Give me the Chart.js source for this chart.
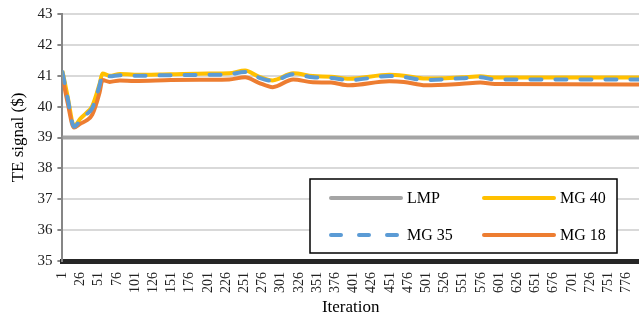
<!DOCTYPE html>
<html>
<head>
<meta charset="utf-8">
<script src="https://cdn.jsdelivr.net/npm/chart.js@4"></script>
<style>
  body { margin: 0; background: #fff; }
  #wrap { width: 639px; height: 316px; }
</style>
</head>
<body>
<div id="wrap"><canvas id="myChart" width="639" height="316"></canvas></div>
<script>
// iteraciones
const iterations = [1, 8, 17, 26, 34, 42, 52, 56, 66, 80, 100, 150, 200, 230, 252, 270, 290, 318, 345, 370, 395, 450, 470, 500, 550, 575, 595, 793];
const mg40 = [41.16, 40.35, 39.38, 39.62, 39.8, 40.02, 40.73, 41.07, 41.0, 41.06, 41.03, 41.05, 41.07, 41.08, 41.17, 40.98, 40.85, 41.08, 40.99, 40.97, 40.9, 41.03, 41.0, 40.91, 40.95, 40.98, 40.94, 40.94];
const mg35 = [41.12, 40.3, 39.35, 39.57, 39.75, 39.95, 40.68, 41.04, 40.98, 41.02, 41.0, 41.02, 41.03, 41.05, 41.12, 40.95, 40.83, 41.05, 40.95, 40.93, 40.86, 40.99, 40.96, 40.86, 40.92, 40.95, 40.88, 40.88];
const mg18 = [40.98, 40.15, 39.32, 39.45, 39.55, 39.74, 40.45, 40.86, 40.8, 40.85, 40.83, 40.86, 40.87, 40.88, 40.95, 40.78, 40.63, 40.88, 40.79, 40.78, 40.69, 40.82, 40.8, 40.69, 40.74, 40.78, 40.73, 40.72];
const lmpIter = [1, 793];
const lmp = [39, 39];
// etiquetas del eje x
const xTickLabels = [1, 26, 51, 76, 101, 126, 151, 176, 201, 226, 251, 276, 301, 326, 351, 376, 401, 426, 451, 476, 501, 526, 551, 576, 601, 626, 651, 676, 701, 726, 751, 776];
const yTickLabels = [35, 36, 37, 38, 39, 40, 41, 42, 43];

const serif = "'Liberation Serif', 'Times New Roman', serif";
const toPts = (xs, ys) => xs.map((x, i) => ({ x: x, y: ys[i] }));

// leyenda dentro del area del grafico
const boxLegend = {
    id: 'boxLegend',
    afterDraw(chart) {
        const ctx = chart.ctx;
        const x0 = 310, y0 = 179, w = 307, h = 74;
        ctx.save();
        ctx.fillStyle = '#fff';
        ctx.fillRect(x0, y0, w, h);
        ctx.strokeStyle = '#000';
        ctx.lineWidth = 1.5;
        ctx.strokeRect(x0, y0, w, h);
        const slots = [[331, 198], [484, 198], [331, 235], [484, 235]];
        chart.data.datasets.forEach((ds, i) => {
            const [lx, ly] = slots[i];
            ctx.beginPath();
            ctx.strokeStyle = ds.borderColor;
            ctx.lineWidth = ds.borderWidth;
            ctx.lineCap = 'round';
            ctx.setLineDash(ds.borderDash ? [10, 18] : []);
            ctx.moveTo(lx, ly);
            ctx.lineTo(lx + 70, ly);
            ctx.stroke();
            ctx.setLineDash([]);
            ctx.fillStyle = '#000';
            ctx.font = '16px ' + serif;
            ctx.textBaseline = 'middle';
            ctx.fillText(ds.label, lx + 76, ly + 1);
        });
        ctx.restore();
    }
};

var ctx = document.getElementById('myChart').getContext('2d');
var chart = new Chart(ctx, {
    type: 'line',
    data: {
        datasets: [
            { label: 'LMP', data: toPts(lmpIter, lmp), borderColor: '#a5a5a5', borderWidth: 4, order: 4 },
            { label: 'MG 40', data: toPts(iterations, mg40), borderColor: '#ffc000', borderWidth: 4, order: 3 },
            { label: 'MG 35', data: toPts(iterations, mg35), borderColor: '#5b9bd5', borderWidth: 4, borderDash: [11, 14], borderCapStyle: 'round', order: 1 },
            { label: 'MG 18', data: toPts(iterations, mg18), borderColor: '#ed7d31', borderWidth: 4, order: 2 }
        ]
    },
    options: {
        responsive: false,
        animation: false,
        devicePixelRatio: 1,
        layout: { padding: { top: 9.5, right: 0, left: 8, bottom: 0 } },
        elements: {
            point: { radius: 0 },
            line: { cubicInterpolationMode: 'monotone', fill: false }
        },
        plugins: { legend: { display: false }, tooltip: { enabled: false } },
        scales: {
            x: {
                type: 'linear',
                min: 1,
                max: 793,
                afterBuildTicks: (scale) => { scale.ticks = xTickLabels.map(v => ({ value: v })); },
                afterFit: (scale) => { scale.paddingRight = 0; },
                grid: { display: false },
                border: { color: '#262626', width: 5 },
                ticks: {
                    minRotation: 90, maxRotation: 90, autoSkip: false,
                    color: '#222', padding: 3,
                    font: { family: serif, size: 14 }
                },
                title: { display: true, text: 'Iteration', color: '#000', padding: { top: 3, bottom: 0 }, font: { family: serif, size: 17, lineHeight: 1 } }
            },
            y: {
                min: 35,
                max: 43,
                afterBuildTicks: (scale) => { scale.ticks = yTickLabels.map(v => ({ value: v })); },
                grid: { color: '#d9d9d9', lineWidth: 2, tickColor: '#868686', tickLength: 5 },
                border: { color: '#868686', width: 2 },
                ticks: { color: '#222', padding: 5, font: { family: serif, size: 15 } },
                title: { display: true, text: 'TE signal ($)', color: '#000', padding: { top: 0, bottom: 4 }, font: { family: serif, size: 17 } }
            }
        }
    },
    plugins: [boxLegend]
});
</script>
</body>
</html>
